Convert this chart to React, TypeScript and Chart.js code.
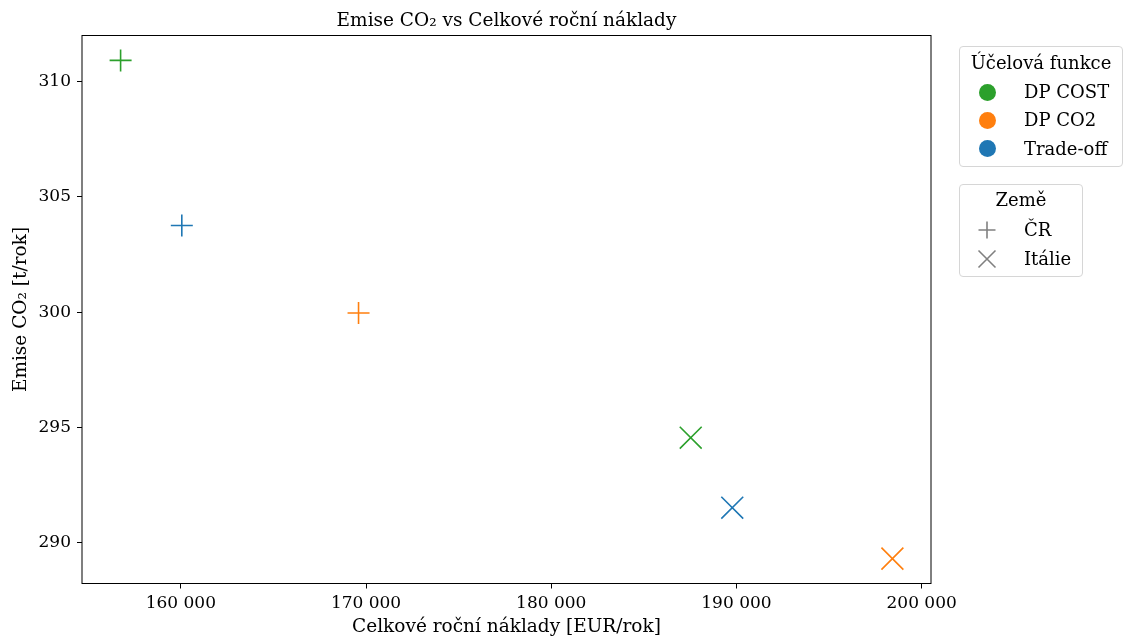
import React, { useEffect, useRef } from "react";
import { Chart, registerables } from "chart.js";

Chart.register(...registerables);

const FONT = "'DejaVu Serif', serif";

const chartTitle = "Emise CO\u2082 vs Celkové roční náklady";
const xAxisTitle = "Celkové roční náklady [EUR/rok]";
const yAxisTitle = "Emise CO\u2082 [t/rok]";

const objectives = ["DP COST", "DP CO2", "Trade-off"];
const objectiveColors = ["#2ca02c", "#ff7f0e", "#1f77b4"];
const countries = ["ČR", "Itálie"];
const countryStyles = ["cross", "crossRot"];

// per objective: [DP COST, DP CO2, Trade-off]
const costCR = [156749, 169596, 160054];
const emisCR = [310.93, 299.96, 303.76];
const costIT = [187531, 198420, 189774];
const emisIT = [294.55, 289.3, 291.51];

const xMin = 154665;
const xMax = 200504;
const yMin = 288.22;
const yMax = 312.01;

const xTickValues = [160000, 170000, 180000, 190000, 200000];
const xTickLabels = ["160 000", "170 000", "180 000", "190 000", "200 000"];
const yTickValues = [290, 295, 300, 305, 310];
const yTickLabels = ["290", "295", "300", "305", "310"];

const legendTitleObjective = "Účelová funkce";
const legendTitleCountry = "Země";

export default function App() {
  const ref = useRef<HTMLCanvasElement | null>(null);

  useEffect(() => {
    const canvas = ref.current;
    if (!canvas) return;
    const datasets: any[] = [];
    const costs = [costCR, costIT];
    const emis = [emisCR, emisIT];
    countries.forEach((c, ci) => {
      objectives.forEach((o, oi) => {
        datasets.push({
          label: `${o} ${c}`,
          data: [{ x: costs[ci][oi], y: emis[ci][oi] }],
          pointStyle: countryStyles[ci],
          pointRadius: ci === 0 ? 11 : 15.5,
          pointBorderWidth: 1.6,
          borderColor: objectiveColors[oi],
          backgroundColor: objectiveColors[oi],
          showLine: false,
        });
      });
    });

    const framePlugin = {
      id: "frame",
      afterDraw(chart: any) {
        const { ctx, chartArea: ca } = chart;
        ctx.save();
        ctx.strokeStyle = "#000";
        ctx.lineWidth = 1;
        ctx.strokeRect(ca.left, ca.top, ca.right - ca.left, ca.bottom - ca.top);
        ctx.fillStyle = "#000";
        ctx.font = `18.5px ${FONT}`;
        ctx.textAlign = "center";
        ctx.textBaseline = "alphabetic";
        ctx.fillText(chartTitle, (ca.left + ca.right) / 2, 26);
        ctx.restore();
      },
    };

    const chart = new Chart(canvas, {
      type: "scatter",
      data: { datasets },
      plugins: [framePlugin],
      options: {
        animation: false,
        responsive: false,
        maintainAspectRatio: false,
        layout: { padding: { top: 35.5, right: 193, bottom: 0, left: 0 } },
        plugins: {
          legend: { display: false },
          tooltip: { enabled: false },
          title: { display: false },
        },
        scales: {
          x: {
            type: "linear",
            min: xMin,
            max: xMax,
            afterBuildTicks: (scale: any) => {
              scale.ticks = xTickValues.map((value) => ({ value }));
            },
            afterFit: (scale: any) => {
              scale.height = 54.5;
            },
            ticks: {
              color: "#000",
              font: { family: FONT, size: 17 },
              padding: 5,
              maxRotation: 0,
              callback: (v: any) => xTickLabels[xTickValues.indexOf(Number(v))] ?? "",
            },
            grid: { drawOnChartArea: false, drawTicks: true, tickLength: 5, color: "#000" },
            border: { display: false },
            title: {
              display: true,
              text: xAxisTitle,
              color: "#000",
              font: { family: FONT, size: 18.5 },
              padding: { top: 0, bottom: 0 },
            },
          },
          y: {
            type: "linear",
            min: yMin,
            max: yMax,
            afterBuildTicks: (scale: any) => {
              scale.ticks = yTickValues.map((value) => ({ value }));
            },
            afterFit: (scale: any) => {
              scale.width = 82;
            },
            ticks: {
              color: "#000",
              font: { family: FONT, size: 17 },
              padding: 6,
              callback: (v: any) => yTickLabels[yTickValues.indexOf(Number(v))] ?? "",
            },
            grid: { drawOnChartArea: false, drawTicks: true, tickLength: 5, color: "#000" },
            border: { display: false },
            title: {
              display: true,
              text: yAxisTitle,
              color: "#000",
              font: { family: FONT, size: 18.5 },
              padding: { top: 10, bottom: 0 },
            },
          },
        },
      },
    });
    return () => chart.destroy();
  }, []);

  const text = (s: string, left: number, cy: number, center = false, width = 0) => (
    <div
      style={{
        position: "absolute",
        left,
        top: cy - 12,
        height: 24,
        lineHeight: "24px",
        width: center ? width : undefined,
        textAlign: center ? "center" : "left",
        fontFamily: FONT,
        fontSize: 18,
        color: "#000",
        whiteSpace: "nowrap",
      }}
    >
      {s}
    </div>
  );

  const boxStyle = (left: number, top: number, w: number, h: number): React.CSSProperties => ({
    position: "absolute",
    left,
    top,
    width: w,
    height: h,
    border: "1px solid #d6d6d6",
    borderRadius: 4,
    background: "rgba(255,255,255,0.8)",
    boxSizing: "border-box",
  });

  const objRows = [92, 120, 148.5];
  const ctyRows = [230, 258.5];

  return (
    <div style={{ position: "fixed", left: 0, top: 0, width: 1124, height: 638, background: "#fff" }}>
      <canvas ref={ref} width={1124} height={638} style={{ display: "block" }} />
      <div style={boxStyle(959, 45.5, 164, 121.5)} />
      {text(legendTitleObjective, 959, 63, true, 164)}
      {objectives.map((o, i) => (
        <React.Fragment key={o}>
          <div
            style={{
              position: "absolute",
              left: 987 - 8.5,
              top: objRows[i] - 8.5,
              width: 17,
              height: 17,
              borderRadius: "50%",
              background: objectiveColors[i],
            }}
          />
          {text(o, 1024, objRows[i])}
        </React.Fragment>
      ))}
      <div style={boxStyle(959, 183.5, 124, 93.5)} />
      {text(legendTitleCountry, 959, 200, true, 124)}
      {countries.map((c, i) => (
        <React.Fragment key={c}>
          <svg
            style={{ position: "absolute", left: 987 - 10, top: ctyRows[i] - 10 }}
            width={20}
            height={20}
            viewBox="-10 -10 20 20"
          >
            {i === 0 ? (
              <path d="M-8.5 0 H8.5 M0 -8.5 V8.5" stroke="#808080" strokeWidth={1.6} fill="none" />
            ) : (
              <path d="M-8.5 -8.5 L8.5 8.5 M8.5 -8.5 L-8.5 8.5" stroke="#808080" strokeWidth={1.6} fill="none" />
            )}
          </svg>
          {text(c, 1024, ctyRows[i])}
        </React.Fragment>
      ))}
    </div>
  );
}
